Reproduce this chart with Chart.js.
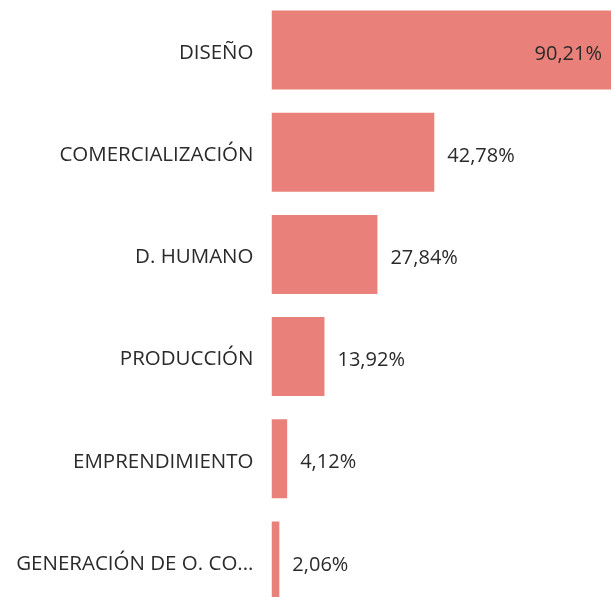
<!DOCTYPE html>
<html>
<head>
<meta charset="utf-8">
<script src="https://cdn.jsdelivr.net/npm/chart.js@4/dist/chart.umd.min.js"></script>
<style>
    html, body { margin: 0; padding: 0; background: #fff; overflow: hidden; }
    #wrap { width: 611px; height: 597px; overflow: hidden; position: relative; }
    #box { width: 652px; height: 613px; position: absolute; left: 0; top: -1px; }
</style>
</head>
<body>
<div id="wrap">
    <div id="box"><canvas id="areaChart"></canvas></div>
</div>
<script>
const categories = ['DISEÑO', 'COMERCIALIZACIÓN', 'D. HUMANO', 'PRODUCCIÓN', 'EMPRENDIMIENTO', 'GENERACIÓN DE O. CO...'];
const percentages = [90.21, 42.78, 27.84, 13.92, 4.12, 2.06];

const barColor = '#E9817A';
const textColor = '#2b2a29';
const fontFamily = '"Open Sans", sans-serif';
const visibleWidth = 611;

function formatPct(v) {
    return v.toFixed(2).replace('.', ',') + '%';
}

// draws the value next to each bar, or inside it when it would not fit
const valueLabels = {
    id: 'valueLabels',
    afterDatasetsDraw(chart) {
        const ctx = chart.ctx;
        const meta = chart.getDatasetMeta(0);
        ctx.save();
        ctx.font = `20px ${fontFamily}`;
        ctx.fillStyle = textColor;
        ctx.textBaseline = 'middle';
        meta.data.forEach((bar, i) => {
            const text = formatPct(percentages[i]);
            const w = ctx.measureText(text).width;
            if (bar.x + 13 + w > visibleWidth) {
                ctx.textAlign = 'right';
                ctx.fillText(text, Math.min(bar.x, visibleWidth) - 9, bar.y + 4);
            } else {
                ctx.textAlign = 'left';
                ctx.fillText(text, bar.x + 13, bar.y + 4);
            }
        });
        ctx.restore();
    }
};

const ctx = document.getElementById('areaChart').getContext('2d');
new Chart(ctx, {
    type: 'bar',
    data: {
        labels: categories,
        datasets: [{
            data: percentages,
            backgroundColor: barColor,
            borderWidth: 0,
            barPercentage: 0.773,
            categoryPercentage: 1
        }]
    },
    options: {
        indexAxis: 'y',
        responsive: true,
        maintainAspectRatio: false,
        animation: false,
        layout: { padding: 0, autoPadding: false },
        plugins: {
            legend: { display: false },
            tooltip: { enabled: false }
        },
        scales: {
            x: {
                display: false,
                min: 0,
                max: 100
            },
            y: {
                grid: { display: false, drawTicks: false },
                border: { display: false },
                ticks: {
                    color: textColor,
                    padding: 18,
                    labelOffset: 3,
                    font: { family: fontFamily, size: 20.5 }
                },
                afterFit(scale) {
                    scale.width = 271.5;
                    scale.paddingTop = 0;
                    scale.paddingBottom = 0;
                }
            }
        }
    },
    plugins: [valueLabels]
});
</script>
</body>
</html>
